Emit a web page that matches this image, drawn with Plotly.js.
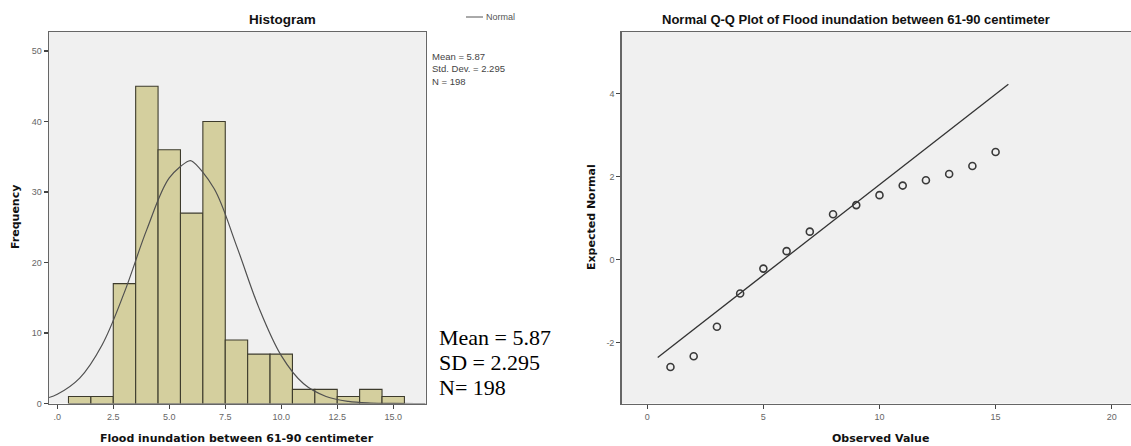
<!DOCTYPE html>
<html>
<head>
<meta charset="utf-8">
<script src="https://cdn.plot.ly/plotly-3.0.1.min.js"></script>
<style>html,body{margin:0;padding:0;background:#fff;}#chart{width:1131px;height:446px;}</style>
</head>
<body>
<div id="chart"></div>
<script>
// ---- Histogram data (bin centres, width 1) ----
var binCenters = [1, 2, 3, 4, 5, 6, 7, 8, 9, 10, 11, 12, 13, 14, 15];
var binCounts  = [1, 1, 17, 45, 36, 27, 40, 9, 7, 7, 2, 2, 1, 2, 1];
var histTickVals = [0, 2.5, 5, 7.5, 10, 12.5, 15];
var histTickText = ['.0', '2.5', '5.0', '7.5', '10.0', '12.5', '15.0'];
var freqTickVals = [0, 10, 20, 30, 40, 50];

// ---- Normal curve ----
var curveX = [-0.37, 0, 1, 2, 3, 4, 5, 5.87, 6, 7, 8, 9, 10, 11, 12, 13, 14, 15, 16.45];
var curveY = [0.85, 1.3, 3.6, 8.3, 15.8, 24.7, 32.0, 34.4, 34.4, 30.5, 22.4, 13.6, 6.8, 2.8, 1.0, 0.3, 0.07, 0.01, 0.0];

// ---- Statistics ----
var statMean = '5.87';
var statSD = '2.295';
var statN = '198';

// ---- Q-Q plot data ----
var qqObserved = [1, 2, 3, 4, 5, 6, 7, 8, 9, 10, 11, 12, 13, 14, 15];
var qqExpected = [-2.59, -2.33, -1.62, -0.82, -0.22, 0.20, 0.67, 1.09, 1.31, 1.55, 1.78, 1.91, 2.06, 2.25, 2.59];
var qqLineX = [0.45, 15.55];
var qqLineY = [-2.36, 4.22];
var qqXTicks = [0, 5, 10, 15, 20];
var qqYTicks = [-2, 0, 2, 4];
var qqYTickText = ['-2', '0', '2', '4'];

var W = 1131, H = 446;
function px(x) { return x / W; }
function py(y) { return 1 - y / H; }

var tickFont = {family: 'Liberation Sans, Arial, sans-serif', size: 9, color: '#666'};
var yDom = [py(403.5), py(32)];

function axisBase(extra) {
  var a = {
    showgrid: false, zeroline: false, showline: true, mirror: true,
    linecolor: '#666', linewidth: 1.5,
    ticks: 'outside', ticklen: 4, tickcolor: '#444', tickwidth: 1.2,
    tickfont: tickFont, fixedrange: true
  };
  for (var k in extra) a[k] = extra[k];
  return a;
}

var traces = [
  {
    type: 'bar', x: binCenters, y: binCounts, width: 1,
    marker: {color: '#d4cf9e', line: {color: '#3d3b2c', width: 1.1}},
    xaxis: 'x', yaxis: 'y', hoverinfo: 'x+y', name: 'Frequency'
  },
  {
    type: 'scatter', mode: 'lines', x: curveX, y: curveY,
    line: {color: '#505050', width: 1.2, shape: 'spline', smoothing: 1},
    xaxis: 'x', yaxis: 'y', name: 'Normal'
  },
  {
    type: 'scatter', mode: 'lines', x: qqLineX, y: qqLineY,
    line: {color: '#333', width: 1.3},
    xaxis: 'x2', yaxis: 'y2', name: 'Line'
  },
  {
    type: 'scatter', mode: 'markers', x: qqObserved, y: qqExpected,
    marker: {symbol: 'circle-open', size: 7, color: '#3a3a3a', line: {width: 1.6, color: '#3a3a3a'}},
    xaxis: 'x2', yaxis: 'y2', name: 'Observed'
  }
];

var serif = {family: 'Liberation Serif, Times New Roman, serif', size: 22, color: '#000'};
var bigLines = ['Mean = ' + statMean, 'SD = ' + statSD, 'N= ' + statN];
var bigY = [337, 362, 387];

var annotations = [
  {text: 'Histogram', x: px(282), y: py(19), xref: 'paper', yref: 'paper', showarrow: false, xanchor: 'center', yanchor: 'middle',
   font: {family: 'Liberation Sans, Arial, sans-serif', size: 13.5, weight: 'bold', color: '#111'}},
  {text: 'Normal Q-Q Plot of Flood inundation between 61-90 centimeter', x: px(856), y: py(19), xref: 'paper', yref: 'paper', showarrow: false, xanchor: 'center', yanchor: 'middle',
   font: {family: 'Liberation Sans, Arial, sans-serif', size: 13, weight: 'bold', color: '#111'}},
  {text: 'Flood inundation between 61-90 centimeter', x: px(237), y: py(438), xref: 'paper', yref: 'paper', showarrow: false, xanchor: 'center', yanchor: 'middle',
   font: {family: 'DejaVu Sans, sans-serif', size: 11, weight: 'bold', color: '#111'}},
  {text: 'Observed Value', x: px(880), y: py(438), xref: 'paper', yref: 'paper', showarrow: false, xanchor: 'center', yanchor: 'middle',
   font: {family: 'DejaVu Sans, sans-serif', size: 11, weight: 'bold', color: '#111'}},
  {text: 'Frequency', x: px(16), y: py(217), xref: 'paper', yref: 'paper', showarrow: false, textangle: -90, xanchor: 'center', yanchor: 'middle',
   font: {family: 'DejaVu Sans, sans-serif', size: 11, weight: 'bold', color: '#111'}},
  {text: 'Expected Normal', x: px(592), y: py(217), xref: 'paper', yref: 'paper', showarrow: false, textangle: -90, xanchor: 'center', yanchor: 'middle',
   font: {family: 'DejaVu Sans, sans-serif', size: 11, weight: 'bold', color: '#111'}},
  {text: 'Normal', x: px(484), y: py(17), xref: 'paper', yref: 'paper', showarrow: false, xanchor: 'left', yanchor: 'middle',
   font: {family: 'Liberation Sans, Arial, sans-serif', size: 9, color: '#555'}},
  {text: 'Mean = ' + statMean + '<br>Std. Dev. = ' + statSD + '<br>N = ' + statN, x: px(430), y: py(49), xref: 'paper', yref: 'paper', showarrow: false, xanchor: 'left', yanchor: 'top', align: 'left',
   font: {family: 'Liberation Sans, Arial, sans-serif', size: 9.5, color: '#444'}}
];
for (var i = 0; i < bigLines.length; i++) {
  annotations.push({text: bigLines[i], x: px(437), y: py(bigY[i]), xref: 'paper', yref: 'paper', showarrow: false,
    xanchor: 'left', yanchor: 'middle', align: 'left', font: serif});
}

var layout = {
  width: W, height: H,
  margin: {l: 0, r: 0, t: 0, b: 0},
  paper_bgcolor: '#ffffff',
  plot_bgcolor: '#f0f0f0',
  showlegend: false,
  bargap: 0,
  xaxis: axisBase({domain: [px(49), px(425.7)], range: [-0.37, 16.45], tickvals: histTickVals, ticktext: histTickText, anchor: 'y'}),
  yaxis: axisBase({domain: yDom, range: [0, 52.7], tickvals: freqTickVals, anchor: 'x'}),
  xaxis2: axisBase({domain: [px(621.7), 1], range: [-1.1, 20.83], tickvals: qqXTicks, anchor: 'y2'}),
  yaxis2: axisBase({domain: yDom, range: [-3.47, 5.48], tickvals: qqYTicks, ticktext: qqYTickText, anchor: 'x2'}),
  shapes: [
    {type: 'line', xref: 'paper', yref: 'paper', x0: px(466), x1: px(483), y0: py(17), y1: py(17), line: {color: '#555', width: 1}}
  ],
  annotations: annotations
};

Plotly.newPlot('chart', traces, layout, {displayModeBar: false, staticPlot: true});
</script>
</body>
</html>
